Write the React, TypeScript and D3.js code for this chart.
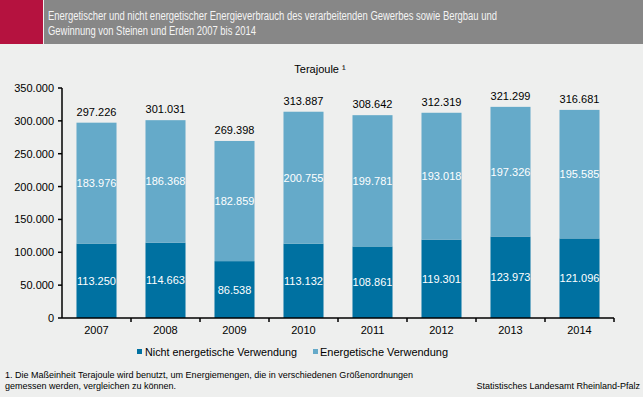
import React from "react";
import * as d3 from "d3";

const years = ["2007", "2008", "2009", "2010", "2011", "2012", "2013", "2014"];
const nichtEnergetisch = [113250, 114663, 86538, 113132, 108861, 119301, 123973, 121096];
const energetisch = [183976, 186368, 182859, 200755, 199781, 193018, 197326, 195585];
const totals = [297226, 301031, 269398, 313887, 308642, 312319, 321299, 316681];
const yTicks = [0, 50000, 100000, 150000, 200000, 250000, 300000, 350000];

const W = 643;
const H = 397;
const FONT = "'Liberation Sans', Arial, sans-serif";
const DARK = "#0071a1";
const LIGHT = "#65aac9";

const fmt = (v: number) => {
  const s = String(v);
  return s.replace(/\B(?=(\d{3})+(?!\d))/g, ".");
};

export default function App() {
  const x = d3.scaleBand<string>().domain(years).range([62, 614]).paddingInner(0.42).paddingOuter(0.21);
  const y = d3.scaleLinear().domain([0, 350000]).range([318, 88]);
  const step = x.step();

  return (
    <svg width={W} height={H} style={{ position: "absolute", left: 0, top: 0, display: "block" }} fontFamily={FONT}>
      <rect x={0} y={0} width={W} height={H} fill="#eeefee" />
      <rect x={0} y={0} width={43} height={44} fill="#b5123f" />
      <rect x={44} y={0} width={W - 44} height={44} fill="#878787" />
      <text x={48} y={20} fontSize={12} fill="#f4f4f4" textLength={449} lengthAdjust="spacingAndGlyphs">
        Energetischer und nicht energetischer Energieverbrauch des verarbeitenden Gewerbes sowie Bergbau und
      </text>
      <text x={48} y={35} fontSize={12} fill="#f4f4f4" textLength={208} lengthAdjust="spacingAndGlyphs">
        Gewinnung von Steinen und Erden 2007 bis 2014
      </text>
      <text x={320} y={73} fontSize={11} textAnchor="middle" fill="#000">
        Terajoule ¹
      </text>

      {years.map((yr, i) => {
        const bx = x(yr)!;
        const bw = x.bandwidth();
        const n = nichtEnergetisch[i];
        const e = energetisch[i];
        const top = y(n + e);
        return (
          <g key={yr}>
            <rect x={bx} y={y(n)} width={bw} height={y(0) - y(n)} fill={DARK} />
            <rect x={bx} y={top} width={bw} height={y(n) - top} fill={LIGHT} />
            <text x={bx + bw / 2} y={(y(0) + y(n)) / 2 + 4} fontSize={11} textAnchor="middle" fill="#fff">
              {fmt(n)}
            </text>
            <text x={bx + bw / 2} y={(y(n) + top) / 2 + 4} fontSize={11} textAnchor="middle" fill="#fff">
              {fmt(e)}
            </text>
            <text x={bx + bw / 2} y={top - 7} fontSize={11} textAnchor="middle" fill="#000">
              {fmt(totals[i])}
            </text>
            <text x={bx + bw / 2} y={334} fontSize={11} textAnchor="middle" fill="#000">
              {yr}
            </text>
          </g>
        );
      })}

      {/* y axis */}
      <line x1={62} x2={62} y1={y(350000)} y2={y(0)} stroke="#000" strokeWidth={1.5} />
      {yTicks.map((t) => (
        <g key={t}>
          <line x1={58} x2={62} y1={y(t)} y2={y(t)} stroke="#000" strokeWidth={1.5} />
          <text x={54} y={y(t) + 4} fontSize={11} textAnchor="end" fill="#000">
            {fmt(t)}
          </text>
        </g>
      ))}
      {/* x axis */}
      <line x1={62} x2={614} y1={y(0)} y2={y(0)} stroke="#000" strokeWidth={1.5} />
      {years.map((yr, i) => (
        <line key={yr} x1={62 + step * (i + 1)} x2={62 + step * (i + 1)} y1={y(0)} y2={y(0) + 4} stroke="#000" strokeWidth={1.5} />
      ))}

      {/* legend */}
      <rect x={137} y={349} width={5} height={5} fill={DARK} />
      <text x={145} y={356} fontSize={11} fill="#000" textLength={152} lengthAdjust="spacingAndGlyphs">Nicht energetische Verwendung</text>
      <rect x={313} y={349} width={5} height={5} fill={LIGHT} />
      <text x={320} y={356} fontSize={11} fill="#000" textLength={128} lengthAdjust="spacingAndGlyphs">Energetische Verwendung</text>

      {/* footnote */}
      <text x={5} y={378} fontSize={9} fill="#000" textLength={408} lengthAdjust="spacingAndGlyphs">
        1. Die Maßeinheit Terajoule wird benutzt, um Energiemengen, die in verschiedenen Größenordnungen
      </text>
      <text x={5} y={389} fontSize={9} fill="#000">
        gemessen werden, vergleichen zu können.
      </text>
      <text x={640} y={389} fontSize={9} textAnchor="end" fill="#000">
        Statistisches Landesamt Rheinland-Pfalz
      </text>
    </svg>
  );
}
